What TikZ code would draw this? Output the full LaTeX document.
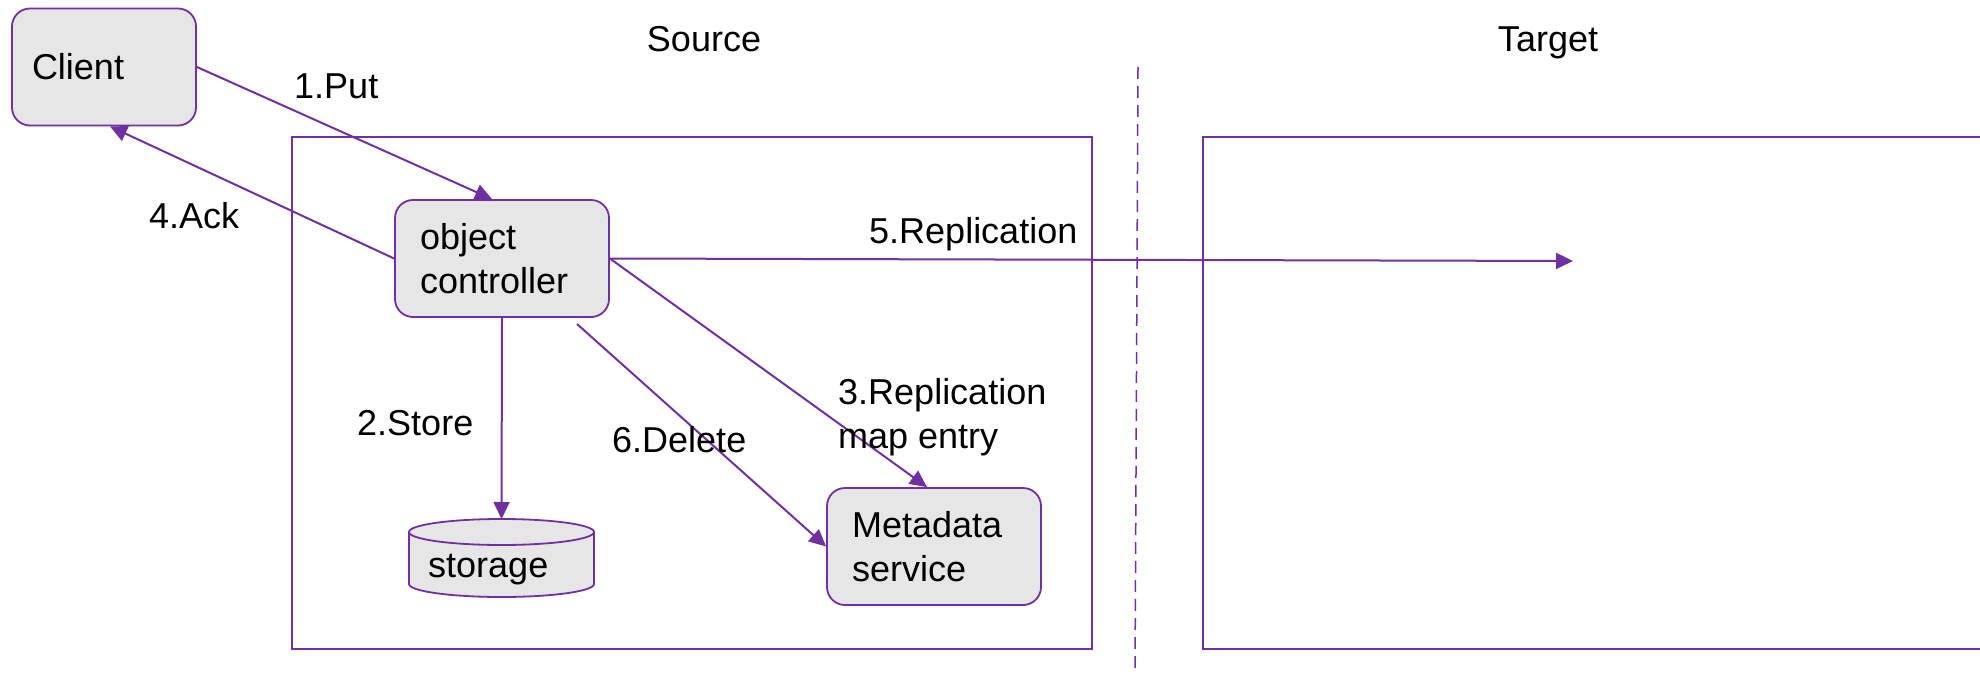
\documentclass[tikz,border=0pt]{standalone}
\usepackage{fontspec}
\setmainfont{Liberation Sans}
\usetikzlibrary{arrows.meta,calc}
\definecolor{vio}{HTML}{7030A0}
\definecolor{boxgrey}{HTML}{E6E6E6}
\begin{document}
\begin{tikzpicture}[x=1pt,y=-1pt,
  every node/.style={font=\fontsize{36pt}{44pt}\selectfont},
  procbox/.style={draw=vio, line width=1.8pt, fill=boxgrey, rounded corners=18pt, align=left, inner xsep=25pt, inner ysep=2pt, minimum height=117pt},
  lbl/.style={anchor=base west, inner sep=0pt},
  ttl/.style={anchor=base, inner sep=0pt},
  conn/.style={draw=vio, line width=2pt, -{Triangle[length=17pt,width=16pt]}},
  frame/.style={draw=vio, line width=1.8pt}]
\useasboundingbox (0,0) rectangle (1980,674);

% frames
\draw[frame] (292,137) rectangle (1092,649);
\draw[frame] (1990,137) -- (1203,137) -- (1203,649) -- (1990,649);
\draw[vio, line width=1.5pt, dash pattern=on 12pt off 7pt] (1138,67) -- (1135,674);

% titles
\node[ttl] (srclbl) at (704,52) {Source};
\node[ttl] (tgtlbl) at (1548,52) {Target};

% boxes
\node[procbox, text width=144pt, inner xsep=20pt] (client) at (104,67) {Client};
\node[procbox, text width=164pt] (oc) at (502,258.5) {object\\controller};
\node[procbox, text width=164pt] (meta) at (934,546.5) {Metadata\\service};

% storage cylinder
\filldraw[fill=boxgrey, draw=vio, line width=1.8pt] (501.5,584) ellipse [x radius=92.5, y radius=13];
\fill[boxgrey] (409,532) rectangle (594,584);
\draw[vio, line width=1.8pt] (409,532) -- (409,584) (594,532) -- (594,584);
\filldraw[fill=boxgrey, draw=vio, line width=1.8pt] (501.5,532) ellipse [x radius=92.5, y radius=13];
\node[lbl] (storage) at (428,577) {storage};
\coordinate (stortop) at (501.5,519);

% free coordinates
\coordinate (reptip) at (1573,261);
\coordinate (delstart) at (577,324);

% connectors
\draw[conn] (client.east) -- ([xshift=-10pt]oc.north);
\draw[conn] (oc.west) -- ([xshift=6pt]client.south);
\draw[conn] (oc.east) -- (reptip);
\draw[conn] (oc.east) -- ([xshift=-7pt]meta.north);
\draw[conn] (oc.south) -- (stortop);
\draw[conn] (delstart) -- (meta.west);

% labels
\node[lbl] (putl) at (294,99) {1.Put};
\node[lbl] (ackl) at (149,228) {4.Ack};
\node[lbl] (repl) at (869,243) {5.Replication};
\node[lbl] (storel) at (357,435) {2.Store};
\node[lbl] (dell) at (612,452) {6.Delete};
\node[lbl, align=left] (rmel) at (838,448) {3.Replication\\map entry};
\end{tikzpicture}
\end{document}
